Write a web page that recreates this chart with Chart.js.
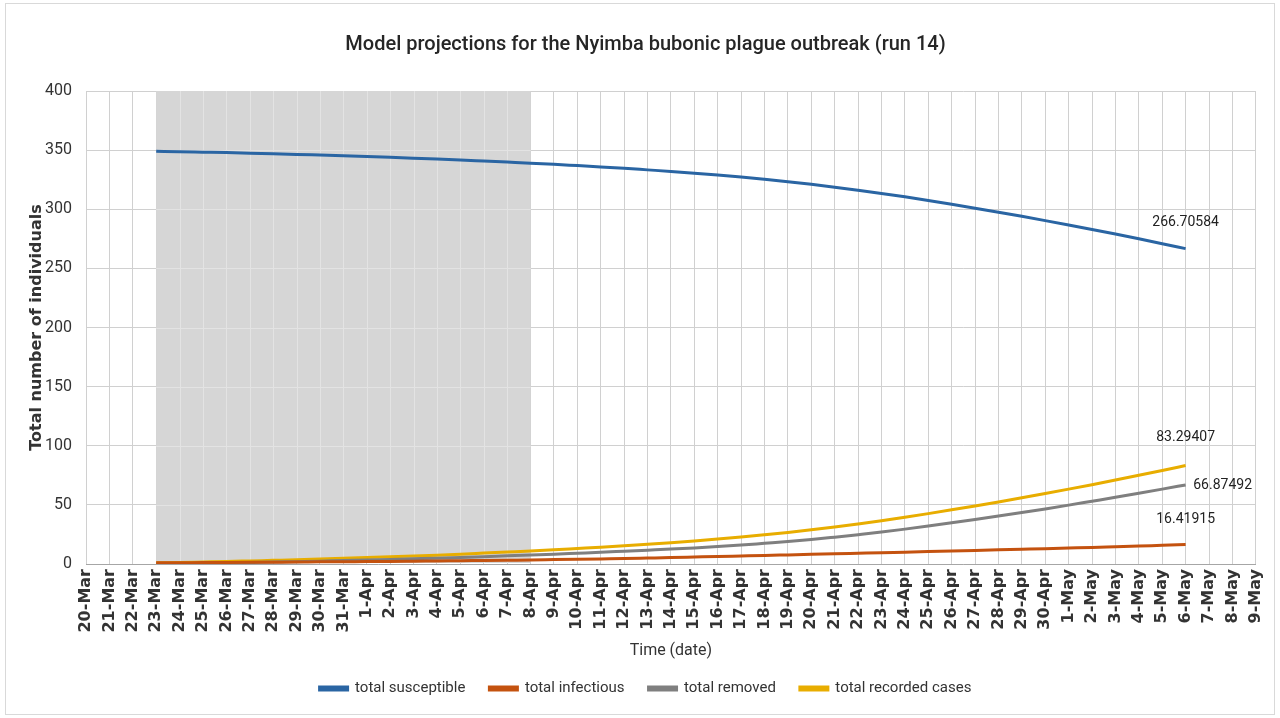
<!DOCTYPE html>
<html>
<head>
<meta charset="utf-8">
<script src="https://cdn.jsdelivr.net/npm/chart.js@4.4.1/dist/chart.umd.min.js"></script>
<style>
  html, body { margin: 0; padding: 0; background: #ffffff; }
  #wrap { width: 1280px; height: 718px; }
</style>
</head>
<body>
<div id="wrap"><canvas id="plagueChart" width="1280" height="718"></canvas></div>
<script>
// dates on the x axis, 20-Mar .. 9-May
const dates = [
  '20-Mar', '21-Mar', '22-Mar', '23-Mar', '24-Mar', '25-Mar', '26-Mar', '27-Mar', '28-Mar', '29-Mar', '30-Mar', '31-Mar',
  '1-Apr', '2-Apr', '3-Apr', '4-Apr', '5-Apr', '6-Apr', '7-Apr', '8-Apr', '9-Apr', '10-Apr', '11-Apr', '12-Apr',
  '13-Apr', '14-Apr', '15-Apr', '16-Apr', '17-Apr', '18-Apr', '19-Apr', '20-Apr', '21-Apr', '22-Apr', '23-Apr',
  '24-Apr', '25-Apr', '26-Apr', '27-Apr', '28-Apr', '29-Apr', '30-Apr',
  '1-May', '2-May', '3-May', '4-May', '5-May', '6-May', '7-May', '8-May', '9-May'
];

// model output, 23-Mar .. 6-May (nulls where the run has no value)
const susceptible = [
  null, null, null,
  349.0, 348.7, 348.3, 347.9, 347.4, 346.9, 346.4, 345.8, 345.2, 344.6, 343.9, 343.2, 342.5, 341.7, 340.8, 339.9,
  339.0, 338.0, 336.9, 335.8, 334.6, 333.3, 332.0, 330.5, 328.9, 327.2, 325.3, 323.3, 321.1, 318.7, 316.1, 313.4,
  310.5, 307.4, 304.2, 300.9, 297.5, 294.0, 290.4, 286.7, 282.9, 279.0, 275.0, 270.9, 266.70584,
  null, null, null
];
const infectious = [
  null, null, null,
  1.0, 1.1, 1.2, 1.3, 1.4, 1.5, 1.6, 1.8, 1.9, 2.1, 2.2, 2.4, 2.6, 2.8, 3.0, 3.2,
  3.4, 3.7, 4.0, 4.3, 4.6, 5.0, 5.4, 5.9, 6.4, 6.8, 7.2, 7.7, 8.2, 8.6, 9.1, 9.6,
  10.0, 10.5, 11.0, 11.5, 12.0, 12.5, 13.0, 13.5, 14.0, 14.6, 15.2, 15.8, 16.41915,
  null, null, null
];
const removed = [
  null, null, null,
  0.0, 0.2, 0.5, 0.8, 1.2, 1.6, 2.0, 2.4, 2.9, 3.3, 3.9, 4.4, 4.9, 5.5, 6.2, 6.9,
  7.6, 8.3, 9.1, 9.9, 10.8, 11.7, 12.6, 13.6, 14.7, 16.0, 17.5, 19.0, 20.7, 22.7, 24.8, 27.0,
  29.5, 32.1, 34.8, 37.6, 40.5, 43.5, 46.6, 49.8, 53.1, 56.4, 59.8, 63.3, 66.87492,
  null, null, null
];
const recorded = [
  null, null, null,
  1.0, 1.3, 1.7, 2.1, 2.6, 3.1, 3.6, 4.2, 4.8, 5.4, 6.1, 6.8, 7.5, 8.3, 9.2, 10.1,
  11.0, 12.0, 13.1, 14.2, 15.4, 16.7, 18.0, 19.5, 21.1, 22.8, 24.7, 26.7, 28.9, 31.3, 33.9, 36.6,
  39.5, 42.6, 45.8, 49.1, 52.5, 56.0, 59.6, 63.3, 67.1, 71.0, 75.0, 79.1, 83.29407,
  null, null, null
];

const yTicks = [0, 50, 100, 150, 200, 250, 300, 350, 400];

// shaded period, 23-Mar .. 8-Apr
const shadeFrom = '23-Mar';
const shadeTo = '8-Apr';

const narrow = 'Roboto, "Liberation Sans", sans-serif';

// white page, outer frame, grey band behind the lines
const backdrop = {
  id: 'backdrop',
  beforeDraw(chart) {
    const ctx = chart.ctx;
    ctx.save();
    ctx.fillStyle = '#ffffff';
    ctx.fillRect(0, 0, chart.width, chart.height);
    ctx.strokeStyle = '#d9d9d9';
    ctx.lineWidth = 1;
    ctx.strokeRect(5.5, 3.5, chart.width - 11, chart.height - 7);
    ctx.restore();
  },
  beforeDatasetsDraw(chart) {
    const x = chart.scales.x, y = chart.scales.y, area = chart.chartArea;
    const ctx = chart.ctx;
    const x0 = x.getPixelForValue(dates.indexOf(shadeFrom));
    const x1 = x.getPixelForValue(dates.indexOf(shadeTo));
    ctx.save();
    ctx.fillStyle = '#d6d6d6';
    ctx.fillRect(x0, area.top, x1 - x0, area.bottom - area.top - 1);
    ctx.strokeStyle = '#e3e3e3';
    ctx.lineWidth = 1;
    ctx.beginPath();
    for (let i = dates.indexOf(shadeFrom) + 1; i < dates.indexOf(shadeTo); i++) {
      const px = Math.round(x.getPixelForValue(i)) + 0.5;
      ctx.moveTo(px, area.top);
      ctx.lineTo(px, area.bottom - 1);
    }
    yTicks.slice(1, -1).forEach(v => {
      const py = Math.round(y.getPixelForValue(v)) + 0.5;
      ctx.moveTo(x0, py);
      ctx.lineTo(x1, py);
    });
    ctx.stroke();
    ctx.restore();
  }
};

// value labels at the last point of each line
const labelOffsets = [[0, -26], [0, -25], [37, 1], [0, -28]];
const endLabels = {
  id: 'endLabels',
  afterDatasetsDraw(chart) {
    const ctx = chart.ctx;
    ctx.save();
    ctx.font = '14px ' + narrow;
    ctx.fillStyle = '#222222';
    ctx.textAlign = 'center';
    ctx.textBaseline = 'middle';
    chart.data.datasets.forEach((ds, i) => {
      const meta = chart.getDatasetMeta(i);
      let last = ds.data.length - 1;
      while (last > 0 && ds.data[last] === null) last--;
      const pt = meta.data[last];
      ctx.fillText(String(ds.data[last]), pt.x + labelOffsets[i][0], pt.y + labelOffsets[i][1]);
    });
    ctx.restore();
  }
};

const ctx = document.getElementById('plagueChart').getContext('2d');
new Chart(ctx, {
  type: 'line',
  data: {
    labels: dates,
    datasets: [
      { label: 'total susceptible', data: susceptible, borderColor: '#2a65a3', backgroundColor: '#2a65a3' },
      { label: 'total infectious', data: infectious, borderColor: '#c4520f', backgroundColor: '#c4520f' },
      { label: 'total removed', data: removed, borderColor: '#7f7f7f', backgroundColor: '#7f7f7f' },
      { label: 'total recorded cases', data: recorded, borderColor: '#e8ad00', backgroundColor: '#e8ad00' }
    ]
  },
  options: {
    responsive: false,
    animation: false,
    devicePixelRatio: 1,
    layout: { padding: { left: 27, right: 16, top: 0, bottom: 12 } },
    elements: {
      point: { radius: 0 },
      line: { borderWidth: 3, tension: 0.3, cubicInterpolationMode: 'monotone', fill: false }
    },
    plugins: {
      title: {
        display: true,
        text: 'Model projections for the Nyimba bubonic plague outbreak (run 14)',
        color: '#262626',
        font: { family: narrow, size: 20, weight: '500' },
        padding: { top: 33, bottom: 34 }
      },
      legend: {
        position: 'bottom',
        labels: {
          color: '#333333',
          font: { family: narrow, size: 15 },
          boxWidth: 28,
          boxHeight: 3,
          padding: 24
        }
      },
      tooltip: { enabled: false }
    },
    scales: {
      x: {
        offset: false,
        grid: { color: '#d0d0d0', drawTicks: false },
        border: { color: '#a6a6a6' },
        ticks: {
          autoSkip: false,
          maxRotation: 90,
          minRotation: 90,
          padding: 5,
          color: '#333333',
          font: { family: '"DejaVu Sans", sans-serif', size: 16, weight: 'bold' }
        },
        title: {
          display: true,
          text: 'Time (date)',
          color: '#333333',
          font: { family: narrow, size: 16 },
          padding: { top: 0, bottom: -4 }
        },
        afterFit(scale) { scale.height = 93; }
      },
      y: {
        min: 0,
        max: 400,
        grid: { color: '#d0d0d0', drawTicks: false },
        border: { display: false },
        ticks: {
          stepSize: 50,
          padding: 14,
          color: '#333333',
          font: { family: narrow, size: 16 }
        },
        title: {
          display: true,
          text: 'Total number of individuals',
          color: '#333333',
          font: { family: '"DejaVu Sans", sans-serif', size: 16, weight: 'bold' },
          padding: { top: 0, bottom: 4 }
        },
        afterFit(scale) { scale.width = 59; }
      }
    }
  },
  plugins: [backdrop, endLabels]
});
</script>
</body>
</html>
